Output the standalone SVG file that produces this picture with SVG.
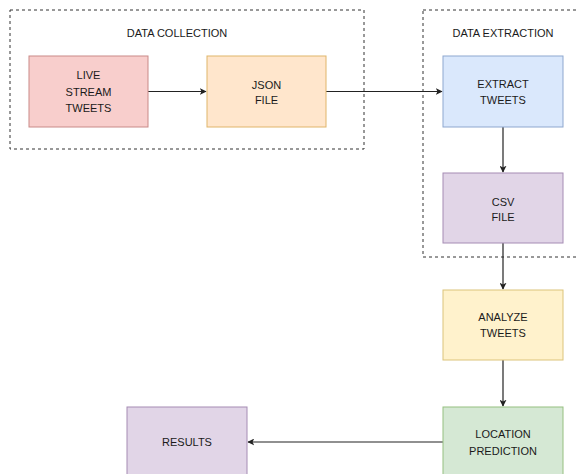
<svg xmlns="http://www.w3.org/2000/svg" width="578" height="474" viewBox="0 0 578 474">
<style>
text{font-family:"Liberation Sans",Arial,sans-serif;font-size:11px;fill:#1a1a1a;text-anchor:middle}
.grp{fill:none;stroke:#333;stroke-width:1;stroke-dasharray:3 3}
.edge{fill:none;stroke:#222;stroke-width:1.2}
</style>
<defs>
<marker id="arr" viewBox="0 0 10 10" refX="9" refY="5" markerWidth="7" markerHeight="7" markerUnits="userSpaceOnUse" orient="auto">
<path d="M0,0 L10,5 L0,10 L2.5,5 Z" fill="#222"/>
</marker>
</defs>
<rect width="578" height="474" fill="#fff"/>
<g id="group-collection">
<rect class="grp" x="10" y="10" width="354" height="139"/>
<text x="177" y="37">DATA COLLECTION</text>
</g>
<g id="group-extraction">
<rect class="grp" x="423" y="10" width="160" height="247"/>
<text x="503" y="37">DATA EXTRACTION</text>
</g>
<g id="connectors">
<line class="edge" x1="148" y1="91.5" x2="206" y2="91.5" marker-end="url(#arr)"/>
<line class="edge" x1="326" y1="91.5" x2="442" y2="91.5" marker-end="url(#arr)"/>
<line class="edge" x1="503" y1="127" x2="503" y2="172" marker-end="url(#arr)"/>
<line class="edge" x1="503" y1="243" x2="503" y2="289" marker-end="url(#arr)"/>
<line class="edge" x1="503" y1="360" x2="503" y2="406" marker-end="url(#arr)"/>
<line class="edge" x1="443" y1="442" x2="248" y2="442" marker-end="url(#arr)"/>
</g>
<g id="node-live">
<rect x="29" y="56" width="119" height="71" fill="#f8cecc" stroke="#c98a88"/>
<text x="88.5" y="79">LIVE</text>
<text x="88.5" y="96">STREAM</text>
<text x="88.5" y="112">TWEETS</text>
</g>
<g id="node-json">
<rect x="207" y="56" width="119" height="71" fill="#ffe6cc" stroke="#e0b56a"/>
<text x="266.5" y="89">JSON</text>
<text x="266.5" y="104">FILE</text>
</g>
<g id="node-extract">
<rect x="443" y="56" width="120" height="71" fill="#dae8fc" stroke="#8ea7cf"/>
<text x="503" y="88">EXTRACT</text>
<text x="503" y="104">TWEETS</text>
</g>
<g id="node-csv">
<rect x="443" y="173" width="120" height="70" fill="#e1d5e7" stroke="#a58cb4"/>
<text x="503" y="206">CSV</text>
<text x="503" y="221">FILE</text>
</g>
<g id="node-analyze">
<rect x="443" y="290" width="120" height="70" fill="#fff2cc" stroke="#dcc47a"/>
<text x="503" y="321">ANALYZE</text>
<text x="503" y="337">TWEETS</text>
</g>
<g id="node-location">
<rect x="443" y="407" width="120" height="72" fill="#d5e8d4" stroke="#96c080"/>
<text x="503" y="438">LOCATION</text>
<text x="503" y="455">PREDICTION</text>
</g>
<g id="node-results">
<rect x="127" y="407" width="120" height="72" fill="#e1d5e7" stroke="#a58cb4"/>
<text x="187" y="446">RESULTS</text>
</g>
</svg>
